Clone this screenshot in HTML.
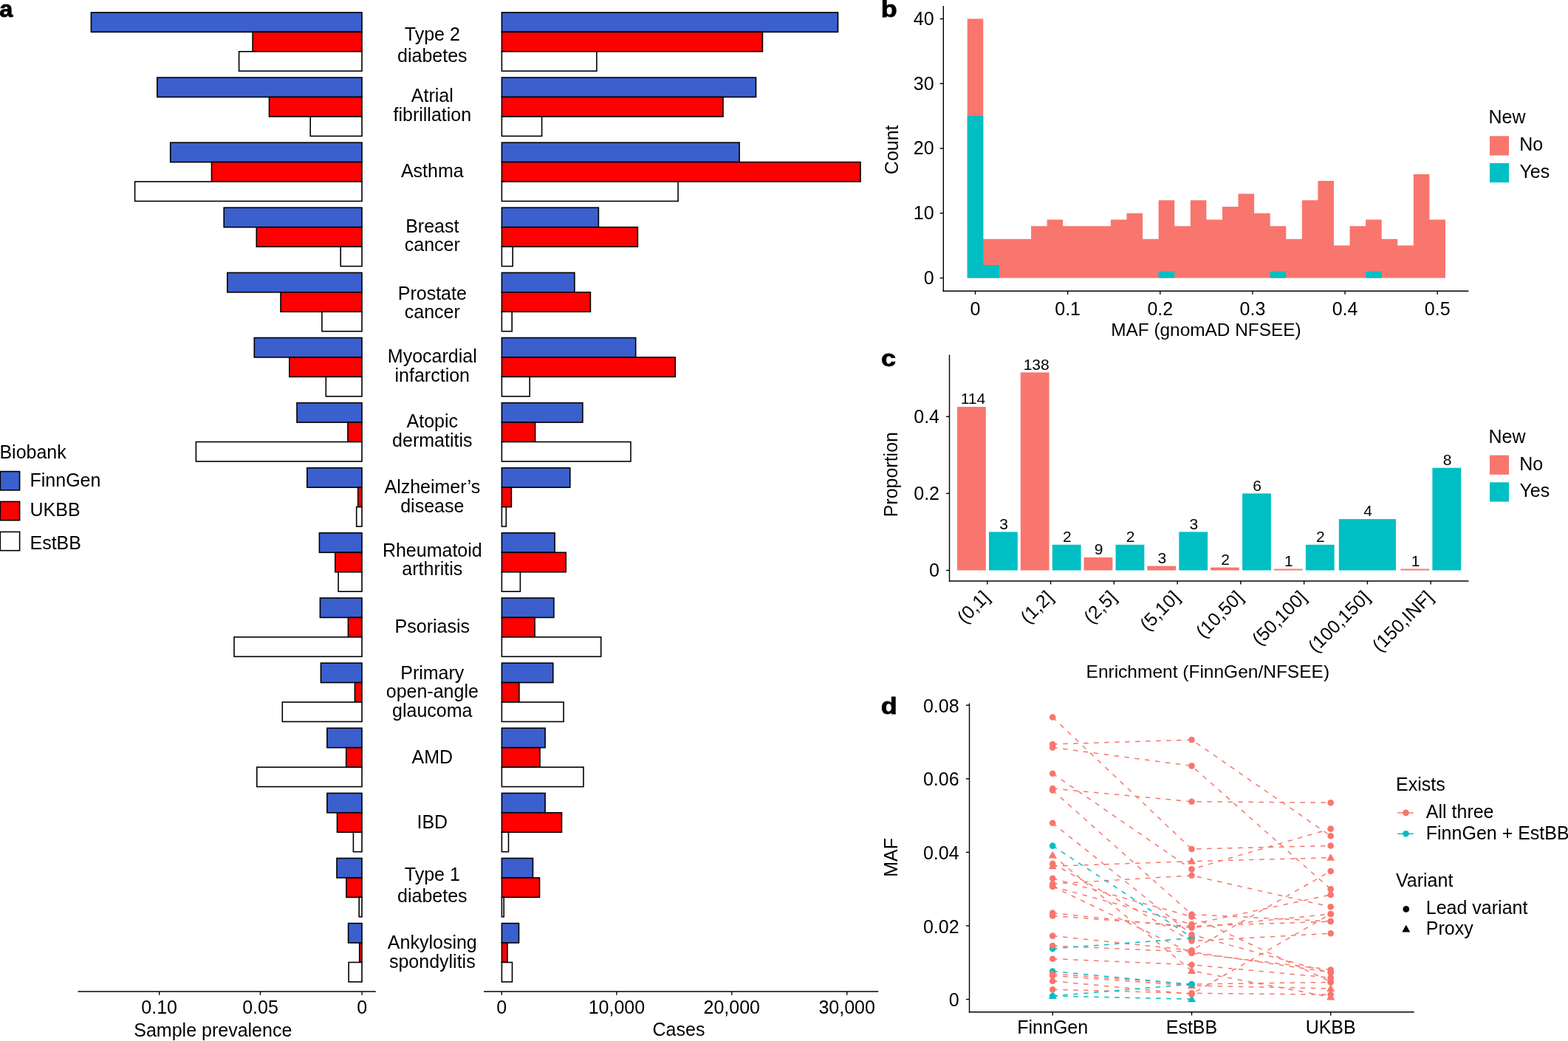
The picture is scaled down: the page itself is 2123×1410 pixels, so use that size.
<!DOCTYPE html>
<html><head><meta charset="utf-8"><title>Figure</title>
<style>
html,body{margin:0;padding:0;background:#fff;overflow:hidden;}
svg{display:block;}
svg text{font-family:"Liberation Sans", Arial, Helvetica, sans-serif;font-size:25px;fill:#000;}
</style></head>
<body>
<svg width="2123" height="1410" viewBox="0 0 2123 1410">
<rect x="0" y="0" width="2123" height="1410" fill="#fff"/>
<g stroke="#000" stroke-width="1.6">
<rect x="123.4" y="16.9" width="366.6" height="26.45" fill="#3B5FCD"/>
<rect x="679.4" y="16.9" width="455.1" height="26.45" fill="#3B5FCD"/>
<rect x="342.1" y="43.35" width="147.9" height="26.45" fill="#FF0000"/>
<rect x="679.4" y="43.35" width="353" height="26.45" fill="#FF0000"/>
<rect x="323.6" y="69.8" width="166.4" height="26.45" fill="#FFFFFF"/>
<rect x="679.4" y="69.8" width="128.5" height="26.45" fill="#FFFFFF"/>
<rect x="212.8" y="105.02" width="277.2" height="26.45" fill="#3B5FCD"/>
<rect x="679.4" y="105.02" width="344.1" height="26.45" fill="#3B5FCD"/>
<rect x="364.5" y="131.47" width="125.5" height="26.45" fill="#FF0000"/>
<rect x="679.4" y="131.47" width="299.6" height="26.45" fill="#FF0000"/>
<rect x="420.2" y="157.92" width="69.8" height="26.45" fill="#FFFFFF"/>
<rect x="679.4" y="157.92" width="54.2" height="26.45" fill="#FFFFFF"/>
<rect x="230.7" y="193.14" width="259.3" height="26.45" fill="#3B5FCD"/>
<rect x="679.4" y="193.14" width="321.7" height="26.45" fill="#3B5FCD"/>
<rect x="286.5" y="219.59" width="203.5" height="26.45" fill="#FF0000"/>
<rect x="679.4" y="219.59" width="485.6" height="26.45" fill="#FF0000"/>
<rect x="182.6" y="246.04" width="307.4" height="26.45" fill="#FFFFFF"/>
<rect x="679.4" y="246.04" width="238.7" height="26.45" fill="#FFFFFF"/>
<rect x="303.2" y="281.26" width="186.8" height="26.45" fill="#3B5FCD"/>
<rect x="679.4" y="281.26" width="131" height="26.45" fill="#3B5FCD"/>
<rect x="347.3" y="307.71" width="142.7" height="26.45" fill="#FF0000"/>
<rect x="679.4" y="307.71" width="184" height="26.45" fill="#FF0000"/>
<rect x="461.2" y="334.16" width="28.8" height="26.45" fill="#FFFFFF"/>
<rect x="679.4" y="334.16" width="14.8" height="26.45" fill="#FFFFFF"/>
<rect x="307.8" y="369.38" width="182.2" height="26.45" fill="#3B5FCD"/>
<rect x="679.4" y="369.38" width="98.5" height="26.45" fill="#3B5FCD"/>
<rect x="380" y="395.83" width="110" height="26.45" fill="#FF0000"/>
<rect x="679.4" y="395.83" width="120" height="26.45" fill="#FF0000"/>
<rect x="435.9" y="422.28" width="54.1" height="26.45" fill="#FFFFFF"/>
<rect x="679.4" y="422.28" width="13.8" height="26.45" fill="#FFFFFF"/>
<rect x="344.3" y="457.5" width="145.7" height="26.45" fill="#3B5FCD"/>
<rect x="679.4" y="457.5" width="181.3" height="26.45" fill="#3B5FCD"/>
<rect x="391.8" y="483.95" width="98.2" height="26.45" fill="#FF0000"/>
<rect x="679.4" y="483.95" width="234.9" height="26.45" fill="#FF0000"/>
<rect x="441.3" y="510.4" width="48.7" height="26.45" fill="#FFFFFF"/>
<rect x="679.4" y="510.4" width="37.8" height="26.45" fill="#FFFFFF"/>
<rect x="402" y="545.62" width="88" height="26.45" fill="#3B5FCD"/>
<rect x="679.4" y="545.62" width="109.5" height="26.45" fill="#3B5FCD"/>
<rect x="470.9" y="572.07" width="19.1" height="26.45" fill="#FF0000"/>
<rect x="679.4" y="572.07" width="45.2" height="26.45" fill="#FF0000"/>
<rect x="265.4" y="598.52" width="224.6" height="26.45" fill="#FFFFFF"/>
<rect x="679.4" y="598.52" width="174.6" height="26.45" fill="#FFFFFF"/>
<rect x="415.8" y="633.74" width="74.2" height="26.45" fill="#3B5FCD"/>
<rect x="679.4" y="633.74" width="92.4" height="26.45" fill="#3B5FCD"/>
<rect x="484.7" y="660.19" width="5.3" height="26.45" fill="#FF0000"/>
<rect x="679.4" y="660.19" width="13" height="26.45" fill="#FF0000"/>
<rect x="482.7" y="686.64" width="7.3" height="26.45" fill="#FFFFFF"/>
<rect x="679.4" y="686.64" width="5.9" height="26.45" fill="#FFFFFF"/>
<rect x="432.4" y="721.86" width="57.6" height="26.45" fill="#3B5FCD"/>
<rect x="679.4" y="721.86" width="71.7" height="26.45" fill="#3B5FCD"/>
<rect x="453.8" y="748.31" width="36.2" height="26.45" fill="#FF0000"/>
<rect x="679.4" y="748.31" width="86.8" height="26.45" fill="#FF0000"/>
<rect x="458.1" y="774.76" width="31.9" height="26.45" fill="#FFFFFF"/>
<rect x="679.4" y="774.76" width="25" height="26.45" fill="#FFFFFF"/>
<rect x="433.4" y="809.98" width="56.6" height="26.45" fill="#3B5FCD"/>
<rect x="679.4" y="809.98" width="70.5" height="26.45" fill="#3B5FCD"/>
<rect x="471.4" y="836.43" width="18.6" height="26.45" fill="#FF0000"/>
<rect x="679.4" y="836.43" width="44.7" height="26.45" fill="#FF0000"/>
<rect x="317" y="862.88" width="173" height="26.45" fill="#FFFFFF"/>
<rect x="679.4" y="862.88" width="134.3" height="26.45" fill="#FFFFFF"/>
<rect x="434.4" y="898.1" width="55.6" height="26.45" fill="#3B5FCD"/>
<rect x="679.4" y="898.1" width="69.4" height="26.45" fill="#3B5FCD"/>
<rect x="480.4" y="924.55" width="9.6" height="26.45" fill="#FF0000"/>
<rect x="679.4" y="924.55" width="23.5" height="26.45" fill="#FF0000"/>
<rect x="382.3" y="951" width="107.7" height="26.45" fill="#FFFFFF"/>
<rect x="679.4" y="951" width="83.7" height="26.45" fill="#FFFFFF"/>
<rect x="442.9" y="986.22" width="47.1" height="26.45" fill="#3B5FCD"/>
<rect x="679.4" y="986.22" width="58.7" height="26.45" fill="#3B5FCD"/>
<rect x="468.7" y="1012.67" width="21.3" height="26.45" fill="#FF0000"/>
<rect x="679.4" y="1012.67" width="51.6" height="26.45" fill="#FF0000"/>
<rect x="347.8" y="1039.12" width="142.2" height="26.45" fill="#FFFFFF"/>
<rect x="679.4" y="1039.12" width="110.6" height="26.45" fill="#FFFFFF"/>
<rect x="442.9" y="1074.34" width="47.1" height="26.45" fill="#3B5FCD"/>
<rect x="679.4" y="1074.34" width="58.7" height="26.45" fill="#3B5FCD"/>
<rect x="456.5" y="1100.79" width="33.5" height="26.45" fill="#FF0000"/>
<rect x="679.4" y="1100.79" width="81.1" height="26.45" fill="#FF0000"/>
<rect x="478.4" y="1127.24" width="11.6" height="26.45" fill="#FFFFFF"/>
<rect x="679.4" y="1127.24" width="9.1" height="26.45" fill="#FFFFFF"/>
<rect x="456" y="1162.46" width="34" height="26.45" fill="#3B5FCD"/>
<rect x="679.4" y="1162.46" width="42.1" height="26.45" fill="#3B5FCD"/>
<rect x="468.9" y="1188.91" width="21.1" height="26.45" fill="#FF0000"/>
<rect x="679.4" y="1188.91" width="51.1" height="26.45" fill="#FF0000"/>
<rect x="486.2" y="1215.36" width="3.8" height="26.45" fill="#FFFFFF"/>
<rect x="679.4" y="1215.36" width="2.8" height="26.45" fill="#FFFFFF"/>
<rect x="471.6" y="1250.58" width="18.4" height="26.45" fill="#3B5FCD"/>
<rect x="679.4" y="1250.58" width="23.1" height="26.45" fill="#3B5FCD"/>
<rect x="486.7" y="1277.03" width="3.3" height="26.45" fill="#FF0000"/>
<rect x="679.4" y="1277.03" width="7.6" height="26.45" fill="#FF0000"/>
<rect x="472.1" y="1303.48" width="17.9" height="26.45" fill="#FFFFFF"/>
<rect x="679.4" y="1303.48" width="14.1" height="26.45" fill="#FFFFFF"/>
</g>
<text x="585.3" y="54.8" text-anchor="middle">Type 2</text>
<text x="585.3" y="83.8" text-anchor="middle">diabetes</text>
<text x="585.3" y="138.3" text-anchor="middle">Atrial</text>
<text x="585.3" y="164.1" text-anchor="middle">fibrillation</text>
<text x="585.3" y="239.6" text-anchor="middle">Asthma</text>
<text x="585.3" y="315" text-anchor="middle">Breast</text>
<text x="585.3" y="340.3" text-anchor="middle">cancer</text>
<text x="585.3" y="406" text-anchor="middle">Prostate</text>
<text x="585.3" y="430.7" text-anchor="middle">cancer</text>
<text x="585.3" y="491.3" text-anchor="middle">Myocardial</text>
<text x="585.3" y="517.3" text-anchor="middle">infarction</text>
<text x="585.3" y="579.4" text-anchor="middle">Atopic</text>
<text x="585.3" y="605.3" text-anchor="middle">dermatitis</text>
<text x="585.3" y="668.1" text-anchor="middle">Alzheimer’s</text>
<text x="585.3" y="693.7" text-anchor="middle">disease</text>
<text x="585.3" y="753.6" text-anchor="middle">Rheumatoid</text>
<text x="585.3" y="778.7" text-anchor="middle">arthritis</text>
<text x="585.3" y="857.4" text-anchor="middle">Psoriasis</text>
<text x="585.3" y="919.7" text-anchor="middle">Primary</text>
<text x="585.3" y="945.4" text-anchor="middle">open-angle</text>
<text x="585.3" y="971.1" text-anchor="middle">glaucoma</text>
<text x="585.3" y="1034" text-anchor="middle">AMD</text>
<text x="585.3" y="1122" text-anchor="middle">IBD</text>
<text x="585.3" y="1192.6" text-anchor="middle">Type 1</text>
<text x="585.3" y="1221.5" text-anchor="middle">diabetes</text>
<text x="585.3" y="1285.4" text-anchor="middle">Ankylosing</text>
<text x="585.3" y="1311.3" text-anchor="middle">spondylitis</text>
<line x1="105.5" y1="1343" x2="508.8" y2="1343" stroke="#000" stroke-width="1.4"/>
<line x1="215.7" y1="1343" x2="215.7" y2="1347.8" stroke="#000" stroke-width="1.4"/>
<text x="215.7" y="1372.6" text-anchor="middle">0.10</text>
<line x1="352.5" y1="1343" x2="352.5" y2="1347.8" stroke="#000" stroke-width="1.4"/>
<text x="352.5" y="1372.6" text-anchor="middle">0.05</text>
<line x1="490.1" y1="1343" x2="490.1" y2="1347.8" stroke="#000" stroke-width="1.4"/>
<text x="490.1" y="1372.6" text-anchor="middle">0</text>
<text x="288.3" y="1404.2" text-anchor="middle">Sample prevalence</text>
<line x1="655" y1="1343" x2="1189.2" y2="1343" stroke="#000" stroke-width="1.4"/>
<line x1="679.3" y1="1343" x2="679.3" y2="1347.8" stroke="#000" stroke-width="1.4"/>
<text x="679.3" y="1372.5" text-anchor="middle">0</text>
<line x1="834.9" y1="1343" x2="834.9" y2="1347.8" stroke="#000" stroke-width="1.4"/>
<text x="834.9" y="1372.5" text-anchor="middle">10,000</text>
<line x1="990.8" y1="1343" x2="990.8" y2="1347.8" stroke="#000" stroke-width="1.4"/>
<text x="990.8" y="1372.5" text-anchor="middle">20,000</text>
<line x1="1146.7" y1="1343" x2="1146.7" y2="1347.8" stroke="#000" stroke-width="1.4"/>
<text x="1146.7" y="1372.5" text-anchor="middle">30,000</text>
<text x="919" y="1402.9" text-anchor="middle">Cases</text>
<text x="-0.6" y="621.1">Biobank</text>
<g stroke="#000" stroke-width="1.6">
<rect x="0.3" y="638.6" width="26.3" height="25.3" fill="#3B5FCD"/>
<rect x="0.3" y="679.4" width="26.3" height="25.3" fill="#FF0000"/>
<rect x="0.3" y="720.4" width="26.3" height="25.3" fill="#FFFFFF"/>
</g>
<text x="40.5" y="658.5">FinnGen</text>
<text x="40.5" y="699.1">UKBB</text>
<text x="40.5" y="744.1">EstBB</text>
<text transform="translate(-0.7,23.3) scale(1.05,1)" style="font-size:31px" font-weight="bold" stroke="#000" stroke-width="0.8">a</text>
<text transform="translate(1192.8,23.2) scale(1.16,1)" style="font-size:31px" font-weight="bold" stroke="#000" stroke-width="0.8">b</text>
<text transform="translate(1193,495.9) scale(1.16,1)" style="font-size:31px" font-weight="bold" stroke="#000" stroke-width="0.8">c</text>
<text transform="translate(1192.7,967.3) scale(1.16,1)" style="font-size:31px" font-weight="bold" stroke="#000" stroke-width="0.8">d</text>
<polygon fill="#F8766D" points="1309.71,376.5 1309.71,25.5 1331.29,25.5 1331.29,323.85 1352.86,323.85 1352.86,323.85 1374.44,323.85 1374.44,323.85 1396.02,323.85 1396.02,306.3 1417.59,306.3 1417.59,297.52 1439.17,297.52 1439.17,306.3 1460.74,306.3 1460.74,306.3 1482.32,306.3 1482.32,306.3 1503.89,306.3 1503.89,297.52 1525.47,297.52 1525.47,288.75 1547.05,288.75 1547.05,323.85 1568.62,323.85 1568.62,271.2 1590.2,271.2 1590.2,306.3 1611.77,306.3 1611.77,271.2 1633.35,271.2 1633.35,297.52 1654.93,297.52 1654.93,279.98 1676.5,279.98 1676.5,262.43 1698.08,262.43 1698.08,288.75 1719.65,288.75 1719.65,306.3 1741.23,306.3 1741.23,323.85 1762.81,323.85 1762.81,271.2 1784.38,271.2 1784.38,244.88 1805.96,244.88 1805.96,332.62 1827.53,332.62 1827.53,306.3 1849.11,306.3 1849.11,297.52 1870.68,297.52 1870.68,323.85 1892.26,323.85 1892.26,332.62 1913.84,332.62 1913.84,236.1 1935.41,236.1 1935.41,297.52 1956.99,297.52 1956.99,376.5"/>
<rect x="1309.71" y="157.12" width="21.58" height="219.38" fill="#00BFC4"/>
<rect x="1331.29" y="358.95" width="21.58" height="17.55" fill="#00BFC4"/>
<rect x="1568.62" y="367.73" width="21.58" height="8.77" fill="#00BFC4"/>
<rect x="1719.65" y="367.73" width="21.58" height="8.77" fill="#00BFC4"/>
<rect x="1849.11" y="367.73" width="21.58" height="8.77" fill="#00BFC4"/>
<line x1="1277.3" y1="8" x2="1277.3" y2="394.9" stroke="#000" stroke-width="1.4"/>
<line x1="1276.6" y1="394.2" x2="1988.4" y2="394.2" stroke="#000" stroke-width="1.4"/>
<line x1="1272.6" y1="376.5" x2="1277.3" y2="376.5" stroke="#000" stroke-width="1.4"/>
<text x="1264.6" y="384.9" text-anchor="end">0</text>
<line x1="1272.6" y1="288.75" x2="1277.3" y2="288.75" stroke="#000" stroke-width="1.4"/>
<text x="1264.6" y="297.15" text-anchor="end">10</text>
<line x1="1272.6" y1="201" x2="1277.3" y2="201" stroke="#000" stroke-width="1.4"/>
<text x="1264.6" y="209.4" text-anchor="end">20</text>
<line x1="1272.6" y1="113.25" x2="1277.3" y2="113.25" stroke="#000" stroke-width="1.4"/>
<text x="1264.6" y="121.65" text-anchor="end">30</text>
<line x1="1272.6" y1="25.5" x2="1277.3" y2="25.5" stroke="#000" stroke-width="1.4"/>
<text x="1264.6" y="33.9" text-anchor="end">40</text>
<line x1="1320.5" y1="394.2" x2="1320.5" y2="398.8" stroke="#000" stroke-width="1.4"/>
<text x="1320.5" y="426.6" text-anchor="middle">0</text>
<line x1="1445.64" y1="394.2" x2="1445.64" y2="398.8" stroke="#000" stroke-width="1.4"/>
<text x="1445.64" y="426.6" text-anchor="middle">0.1</text>
<line x1="1570.78" y1="394.2" x2="1570.78" y2="398.8" stroke="#000" stroke-width="1.4"/>
<text x="1570.78" y="426.6" text-anchor="middle">0.2</text>
<line x1="1695.92" y1="394.2" x2="1695.92" y2="398.8" stroke="#000" stroke-width="1.4"/>
<text x="1695.92" y="426.6" text-anchor="middle">0.3</text>
<line x1="1821.06" y1="394.2" x2="1821.06" y2="398.8" stroke="#000" stroke-width="1.4"/>
<text x="1821.06" y="426.6" text-anchor="middle">0.4</text>
<line x1="1946.2" y1="394.2" x2="1946.2" y2="398.8" stroke="#000" stroke-width="1.4"/>
<text x="1946.2" y="426.6" text-anchor="middle">0.5</text>
<text x="1632.9" y="455.2" text-anchor="middle" style="font-size:24.4px">MAF (gnomAD NFSEE)</text>
<text transform="translate(1216,202.8) rotate(-90)" text-anchor="middle">Count</text>
<text x="2015.5" y="167.2">New</text>
<rect x="2017" y="184.3" width="26" height="26.2" fill="#F8766D"/>
<rect x="2017" y="221" width="26" height="26.2" fill="#00BFC4"/>
<text x="2057.2" y="204.3">No</text>
<text x="2057.4" y="241.1">Yes</text>
<rect x="1296" y="551.05" width="38.8" height="221.45" fill="#F8766D"/>
<text x="1317.4" y="547.25" text-anchor="middle" style="font-size:21px">114</text>
<rect x="1339" y="720.44" width="38.8" height="52.06" fill="#00BFC4"/>
<text x="1359.1" y="716.64" text-anchor="middle" style="font-size:21px">3</text>
<rect x="1381.77" y="504.43" width="38.8" height="268.07" fill="#F8766D"/>
<text x="1403.17" y="500.63" text-anchor="middle" style="font-size:21px">138</text>
<rect x="1424.77" y="737.79" width="38.8" height="34.71" fill="#00BFC4"/>
<text x="1444.87" y="733.99" text-anchor="middle" style="font-size:21px">2</text>
<rect x="1467.54" y="755.02" width="38.8" height="17.48" fill="#F8766D"/>
<text x="1487.64" y="751.22" text-anchor="middle" style="font-size:21px">9</text>
<rect x="1510.54" y="737.79" width="38.8" height="34.71" fill="#00BFC4"/>
<text x="1530.64" y="733.99" text-anchor="middle" style="font-size:21px">2</text>
<rect x="1553.31" y="766.67" width="38.8" height="5.83" fill="#F8766D"/>
<text x="1573.41" y="762.87" text-anchor="middle" style="font-size:21px">3</text>
<rect x="1596.31" y="720.44" width="38.8" height="52.06" fill="#00BFC4"/>
<text x="1616.41" y="716.64" text-anchor="middle" style="font-size:21px">3</text>
<rect x="1639.08" y="768.61" width="38.8" height="3.89" fill="#F8766D"/>
<text x="1659.18" y="764.81" text-anchor="middle" style="font-size:21px">2</text>
<rect x="1682.08" y="668.38" width="38.8" height="104.12" fill="#00BFC4"/>
<text x="1702.18" y="664.58" text-anchor="middle" style="font-size:21px">6</text>
<rect x="1724.85" y="770.56" width="38.8" height="1.94" fill="#F8766D"/>
<text x="1744.95" y="766.76" text-anchor="middle" style="font-size:21px">1</text>
<rect x="1767.85" y="737.79" width="38.8" height="34.71" fill="#00BFC4"/>
<text x="1787.95" y="733.99" text-anchor="middle" style="font-size:21px">2</text>
<rect x="1812.82" y="703.09" width="77.2" height="69.41" fill="#00BFC4"/>
<text x="1852.12" y="699.29" text-anchor="middle" style="font-size:21px">4</text>
<rect x="1896.39" y="770.56" width="38.8" height="1.94" fill="#F8766D"/>
<text x="1916.49" y="766.76" text-anchor="middle" style="font-size:21px">1</text>
<rect x="1939.39" y="633.67" width="38.8" height="138.83" fill="#00BFC4"/>
<text x="1959.49" y="629.87" text-anchor="middle" style="font-size:21px">8</text>
<line x1="1285.5" y1="480.5" x2="1285.5" y2="787.7" stroke="#000" stroke-width="1.4"/>
<line x1="1284.8" y1="787" x2="1988.4" y2="787" stroke="#000" stroke-width="1.4"/>
<line x1="1281" y1="772.5" x2="1285.5" y2="772.5" stroke="#000" stroke-width="1.4"/>
<text x="1272" y="781.3" text-anchor="end">0</text>
<line x1="1281" y1="668.38" x2="1285.5" y2="668.38" stroke="#000" stroke-width="1.4"/>
<text x="1272" y="677.18" text-anchor="end">0.2</text>
<line x1="1281" y1="564.26" x2="1285.5" y2="564.26" stroke="#000" stroke-width="1.4"/>
<text x="1272" y="573.06" text-anchor="end">0.4</text>
<line x1="1336.8" y1="787" x2="1336.8" y2="791.5" stroke="#000" stroke-width="1.4"/>
<text transform="translate(1328.8,797.8) rotate(-45)" text-anchor="end" dy="0.72em">(0,1]</text>
<line x1="1422.57" y1="787" x2="1422.57" y2="791.5" stroke="#000" stroke-width="1.4"/>
<text transform="translate(1414.57,797.8) rotate(-45)" text-anchor="end" dy="0.72em">(1,2]</text>
<line x1="1508.34" y1="787" x2="1508.34" y2="791.5" stroke="#000" stroke-width="1.4"/>
<text transform="translate(1500.34,797.8) rotate(-45)" text-anchor="end" dy="0.72em">(2,5]</text>
<line x1="1594.11" y1="787" x2="1594.11" y2="791.5" stroke="#000" stroke-width="1.4"/>
<text transform="translate(1586.11,797.8) rotate(-45)" text-anchor="end" dy="0.72em">(5,10]</text>
<line x1="1679.88" y1="787" x2="1679.88" y2="791.5" stroke="#000" stroke-width="1.4"/>
<text transform="translate(1671.88,797.8) rotate(-45)" text-anchor="end" dy="0.72em">(10,50]</text>
<line x1="1765.65" y1="787" x2="1765.65" y2="791.5" stroke="#000" stroke-width="1.4"/>
<text transform="translate(1757.65,797.8) rotate(-45)" text-anchor="end" dy="0.72em">(50,100]</text>
<line x1="1851.42" y1="787" x2="1851.42" y2="791.5" stroke="#000" stroke-width="1.4"/>
<text transform="translate(1843.42,797.8) rotate(-45)" text-anchor="end" dy="0.72em">(100,150]</text>
<line x1="1937.19" y1="787" x2="1937.19" y2="791.5" stroke="#000" stroke-width="1.4"/>
<text transform="translate(1929.19,797.8) rotate(-45)" text-anchor="end" dy="0.72em">(150,INF]</text>
<text x="1635.3" y="917.5" text-anchor="middle" style="font-size:24.5px">Enrichment (FinnGen/NFSEE)</text>
<text transform="translate(1214.8,642.7) rotate(-90)" text-anchor="middle">Proportion</text>
<text x="2015.5" y="599.5">New</text>
<rect x="2017" y="616.6" width="26" height="26.2" fill="#F8766D"/>
<rect x="2017" y="653.3" width="26" height="26.2" fill="#00BFC4"/>
<text x="2057.2" y="636.6">No</text>
<text x="2057.4" y="673.4">Yes</text>
<line x1="1312.5" y1="952.6" x2="1312.5" y2="1371.5" stroke="#000" stroke-width="1.4"/>
<line x1="1311.8" y1="1370.8" x2="1914.7" y2="1370.8" stroke="#000" stroke-width="1.4"/>
<line x1="1307.9" y1="1353.6" x2="1312.5" y2="1353.6" stroke="#000" stroke-width="1.4"/>
<text x="1298.6" y="1363.2" text-anchor="end">0</text>
<line x1="1307.9" y1="1254" x2="1312.5" y2="1254" stroke="#000" stroke-width="1.4"/>
<text x="1298.6" y="1263.6" text-anchor="end">0.02</text>
<line x1="1307.9" y1="1154.4" x2="1312.5" y2="1154.4" stroke="#000" stroke-width="1.4"/>
<text x="1298.6" y="1164" text-anchor="end">0.04</text>
<line x1="1307.9" y1="1054.8" x2="1312.5" y2="1054.8" stroke="#000" stroke-width="1.4"/>
<text x="1298.6" y="1064.4" text-anchor="end">0.06</text>
<line x1="1307.9" y1="955.2" x2="1312.5" y2="955.2" stroke="#000" stroke-width="1.4"/>
<text x="1298.6" y="964.8" text-anchor="end">0.08</text>
<line x1="1425.2" y1="1370.8" x2="1425.2" y2="1375.4" stroke="#000" stroke-width="1.4"/>
<text x="1425.2" y="1400" text-anchor="middle">FinnGen</text>
<line x1="1613.5" y1="1370.8" x2="1613.5" y2="1375.4" stroke="#000" stroke-width="1.4"/>
<text x="1613.5" y="1400" text-anchor="middle">EstBB</text>
<line x1="1801.7" y1="1370.8" x2="1801.7" y2="1375.4" stroke="#000" stroke-width="1.4"/>
<text x="1801.7" y="1400" text-anchor="middle">UKBB</text>
<text transform="translate(1215.4,1161.4) rotate(-90)" text-anchor="middle">MAF</text>
<circle cx="1613.5" cy="1333" r="4.3" fill="#F8766D"/>
<polygon points="1613.5,1329.12 1608,1338.92 1619,1338.92" fill="#F8766D"/>
<circle cx="1425.2" cy="1145.6" r="4.3" fill="#00BFC4"/>
<circle cx="1613.5" cy="1269.5" r="4.3" fill="#00BFC4"/>
<circle cx="1425.2" cy="1284.9" r="4.3" fill="#00BFC4"/>
<circle cx="1613.5" cy="1270.7" r="4.3" fill="#00BFC4"/>
<circle cx="1425.2" cy="1315.5" r="4.3" fill="#00BFC4"/>
<circle cx="1613.5" cy="1333.5" r="4.3" fill="#00BFC4"/>
<circle cx="1425.2" cy="1349" r="4.3" fill="#00BFC4"/>
<circle cx="1613.5" cy="1333" r="4.3" fill="#00BFC4"/>
<polygon points="1425.2,1343.12 1419.7,1352.92 1430.7,1352.92" fill="#00BFC4"/>
<polygon points="1613.5,1347.42 1608,1357.22 1619,1357.22" fill="#00BFC4"/>
<circle cx="1425.2" cy="971.5" r="4.3" fill="#F8766D"/>
<circle cx="1613.5" cy="1150" r="4.3" fill="#F8766D"/>
<circle cx="1801.7" cy="1145.5" r="4.3" fill="#F8766D"/>
<circle cx="1425.2" cy="1008" r="4.3" fill="#F8766D"/>
<circle cx="1613.5" cy="1002" r="4.3" fill="#F8766D"/>
<circle cx="1801.7" cy="1132.2" r="4.3" fill="#F8766D"/>
<circle cx="1425.2" cy="1012.4" r="4.3" fill="#F8766D"/>
<circle cx="1613.5" cy="1037.4" r="4.3" fill="#F8766D"/>
<circle cx="1801.7" cy="1204.3" r="4.3" fill="#F8766D"/>
<circle cx="1425.2" cy="1047.8" r="4.3" fill="#F8766D"/>
<circle cx="1613.5" cy="1177.4" r="4.3" fill="#F8766D"/>
<circle cx="1801.7" cy="1122.6" r="4.3" fill="#F8766D"/>
<circle cx="1425.2" cy="1068" r="4.3" fill="#F8766D"/>
<circle cx="1613.5" cy="1085.8" r="4.3" fill="#F8766D"/>
<circle cx="1801.7" cy="1087.2" r="4.3" fill="#F8766D"/>
<circle cx="1425.2" cy="1070.5" r="4.3" fill="#F8766D"/>
<circle cx="1613.5" cy="1238.5" r="4.3" fill="#F8766D"/>
<circle cx="1801.7" cy="1248" r="4.3" fill="#F8766D"/>
<circle cx="1425.2" cy="1114.8" r="4.3" fill="#F8766D"/>
<circle cx="1613.5" cy="1266" r="4.3" fill="#F8766D"/>
<circle cx="1801.7" cy="1317.6" r="4.3" fill="#F8766D"/>
<polygon points="1425.2,1152.72 1419.7,1162.52 1430.7,1162.52" fill="#F8766D"/>
<polygon points="1613.5,1309.12 1608,1318.92 1619,1318.92" fill="#F8766D"/>
<polygon points="1801.7,1344.62 1796.2,1354.42 1807.2,1354.42" fill="#F8766D"/>
<circle cx="1425.2" cy="1169.7" r="4.3" fill="#F8766D"/>
<circle cx="1613.5" cy="1274.5" r="4.3" fill="#F8766D"/>
<circle cx="1801.7" cy="1264.3" r="4.3" fill="#F8766D"/>
<polygon points="1425.2,1167.42 1419.7,1177.22 1430.7,1177.22" fill="#F8766D"/>
<polygon points="1613.5,1160.72 1608,1170.52 1619,1170.52" fill="#F8766D"/>
<polygon points="1801.7,1155.92 1796.2,1165.72 1807.2,1165.72" fill="#F8766D"/>
<circle cx="1425.2" cy="1189.8" r="4.3" fill="#F8766D"/>
<circle cx="1613.5" cy="1241.5" r="4.3" fill="#F8766D"/>
<circle cx="1801.7" cy="1329.7" r="4.3" fill="#F8766D"/>
<circle cx="1425.2" cy="1197.2" r="4.3" fill="#F8766D"/>
<circle cx="1613.5" cy="1185.8" r="4.3" fill="#F8766D"/>
<circle cx="1801.7" cy="1228.2" r="4.3" fill="#F8766D"/>
<circle cx="1425.2" cy="1200.8" r="4.3" fill="#F8766D"/>
<circle cx="1613.5" cy="1252" r="4.3" fill="#F8766D"/>
<circle cx="1801.7" cy="1211.9" r="4.3" fill="#F8766D"/>
<circle cx="1425.2" cy="1200.8" r="4.3" fill="#F8766D"/>
<circle cx="1613.5" cy="1291" r="4.3" fill="#F8766D"/>
<circle cx="1801.7" cy="1313.5" r="4.3" fill="#F8766D"/>
<circle cx="1425.2" cy="1236.5" r="4.3" fill="#F8766D"/>
<circle cx="1613.5" cy="1256.5" r="4.3" fill="#F8766D"/>
<circle cx="1801.7" cy="1238" r="4.3" fill="#F8766D"/>
<circle cx="1425.2" cy="1240.5" r="4.3" fill="#F8766D"/>
<circle cx="1613.5" cy="1254.5" r="4.3" fill="#F8766D"/>
<circle cx="1801.7" cy="1248" r="4.3" fill="#F8766D"/>
<circle cx="1425.2" cy="1267.6" r="4.3" fill="#F8766D"/>
<circle cx="1613.5" cy="1287.2" r="4.3" fill="#F8766D"/>
<circle cx="1801.7" cy="1180" r="4.3" fill="#F8766D"/>
<circle cx="1425.2" cy="1281" r="4.3" fill="#F8766D"/>
<circle cx="1613.5" cy="1289.5" r="4.3" fill="#F8766D"/>
<circle cx="1801.7" cy="1317" r="4.3" fill="#F8766D"/>
<circle cx="1425.2" cy="1298.7" r="4.3" fill="#F8766D"/>
<circle cx="1613.5" cy="1306.8" r="4.3" fill="#F8766D"/>
<circle cx="1801.7" cy="1324.3" r="4.3" fill="#F8766D"/>
<circle cx="1425.2" cy="1319" r="4.3" fill="#F8766D"/>
<circle cx="1801.7" cy="1330.4" r="4.3" fill="#F8766D"/>
<circle cx="1425.2" cy="1321.5" r="4.3" fill="#F8766D"/>
<polygon points="1801.7,1333.12 1796.2,1342.92 1807.2,1342.92" fill="#F8766D"/>
<circle cx="1425.2" cy="1328.8" r="4.3" fill="#F8766D"/>
<circle cx="1613.5" cy="1346.4" r="4.3" fill="#F8766D"/>
<circle cx="1801.7" cy="1238" r="4.3" fill="#F8766D"/>
<circle cx="1425.2" cy="1340.2" r="4.3" fill="#F8766D"/>
<circle cx="1613.5" cy="1345.3" r="4.3" fill="#F8766D"/>
<circle cx="1801.7" cy="1347.1" r="4.3" fill="#F8766D"/>
<g fill="none" stroke="#F8766D" stroke-width="1.5" stroke-dasharray="6.5 7.5">
<polyline points="1425.2,971.5 1613.5,1150 1801.7,1145.5"/>
<polyline points="1425.2,1008 1613.5,1002 1801.7,1132.2"/>
<polyline points="1425.2,1012.4 1613.5,1037.4 1801.7,1204.3"/>
<polyline points="1425.2,1047.8 1613.5,1177.4 1801.7,1122.6"/>
<polyline points="1425.2,1068 1613.5,1085.8 1801.7,1087.2"/>
<polyline points="1425.2,1070.5 1613.5,1238.5 1801.7,1248"/>
<polyline points="1425.2,1114.8 1613.5,1266 1801.7,1317.6"/>
<polyline points="1425.2,1158.6 1613.5,1315 1801.7,1350.5"/>
<polyline points="1425.2,1169.7 1613.5,1274.5 1801.7,1264.3"/>
<polyline points="1425.2,1173.3 1613.5,1166.6 1801.7,1161.8"/>
<polyline points="1425.2,1189.8 1613.5,1241.5 1801.7,1329.7"/>
<polyline points="1425.2,1197.2 1613.5,1185.8 1801.7,1228.2"/>
<polyline points="1425.2,1200.8 1613.5,1252 1801.7,1211.9"/>
<polyline points="1425.2,1200.8 1613.5,1291 1801.7,1313.5"/>
<polyline points="1425.2,1236.5 1613.5,1256.5 1801.7,1238"/>
<polyline points="1425.2,1240.5 1613.5,1254.5 1801.7,1248"/>
<polyline points="1425.2,1267.6 1613.5,1287.2 1801.7,1180"/>
<polyline points="1425.2,1281 1613.5,1289.5 1801.7,1317"/>
<polyline points="1425.2,1298.7 1613.5,1306.8 1801.7,1324.3"/>
<polyline points="1425.2,1319 1613.5,1333 1801.7,1330.4"/>
<polyline points="1425.2,1321.5 1613.5,1335 1801.7,1339"/>
<polyline points="1425.2,1328.8 1613.5,1346.4 1801.7,1238"/>
<polyline points="1425.2,1340.2 1613.5,1345.3 1801.7,1347.1"/>
</g>
<g fill="none" stroke="#00BFC4" stroke-width="1.5" stroke-dasharray="6.5 7.5">
<polyline points="1425.2,1145.6 1613.5,1269.5"/>
<polyline points="1425.2,1284.9 1613.5,1270.7"/>
<polyline points="1425.2,1315.5 1613.5,1333.5"/>
<polyline points="1425.2,1349 1613.5,1333"/>
<polyline points="1425.2,1349 1613.5,1353.3"/>
</g>
<text x="1890.1" y="1071.1">Exists</text>
<line x1="1892.3" y1="1100.9" x2="1913.7" y2="1100.9" stroke="#F8766D" stroke-width="1.5"/>
<circle cx="1903.5" cy="1100.9" r="4.3" fill="#F8766D"/>
<text x="1930.8" y="1108.1">All three</text>
<line x1="1892.3" y1="1129.3" x2="1913.7" y2="1129.3" stroke="#00BFC4" stroke-width="1.5"/>
<circle cx="1903.5" cy="1129.3" r="4.3" fill="#00BFC4"/>
<text x="1930.8" y="1136.6">FinnGen + EstBB</text>
<text x="1890" y="1200.8">Variant</text>
<circle cx="1903.8" cy="1231.4" r="4.3" fill="#000"/>
<polygon points="1903.8,1252.72 1898.3,1262.52 1909.3,1262.52" fill="#000"/>
<text x="1930.8" y="1238.2">Lead variant</text>
<text x="1930.8" y="1266.3">Proxy</text>
</svg>
</body></html>
